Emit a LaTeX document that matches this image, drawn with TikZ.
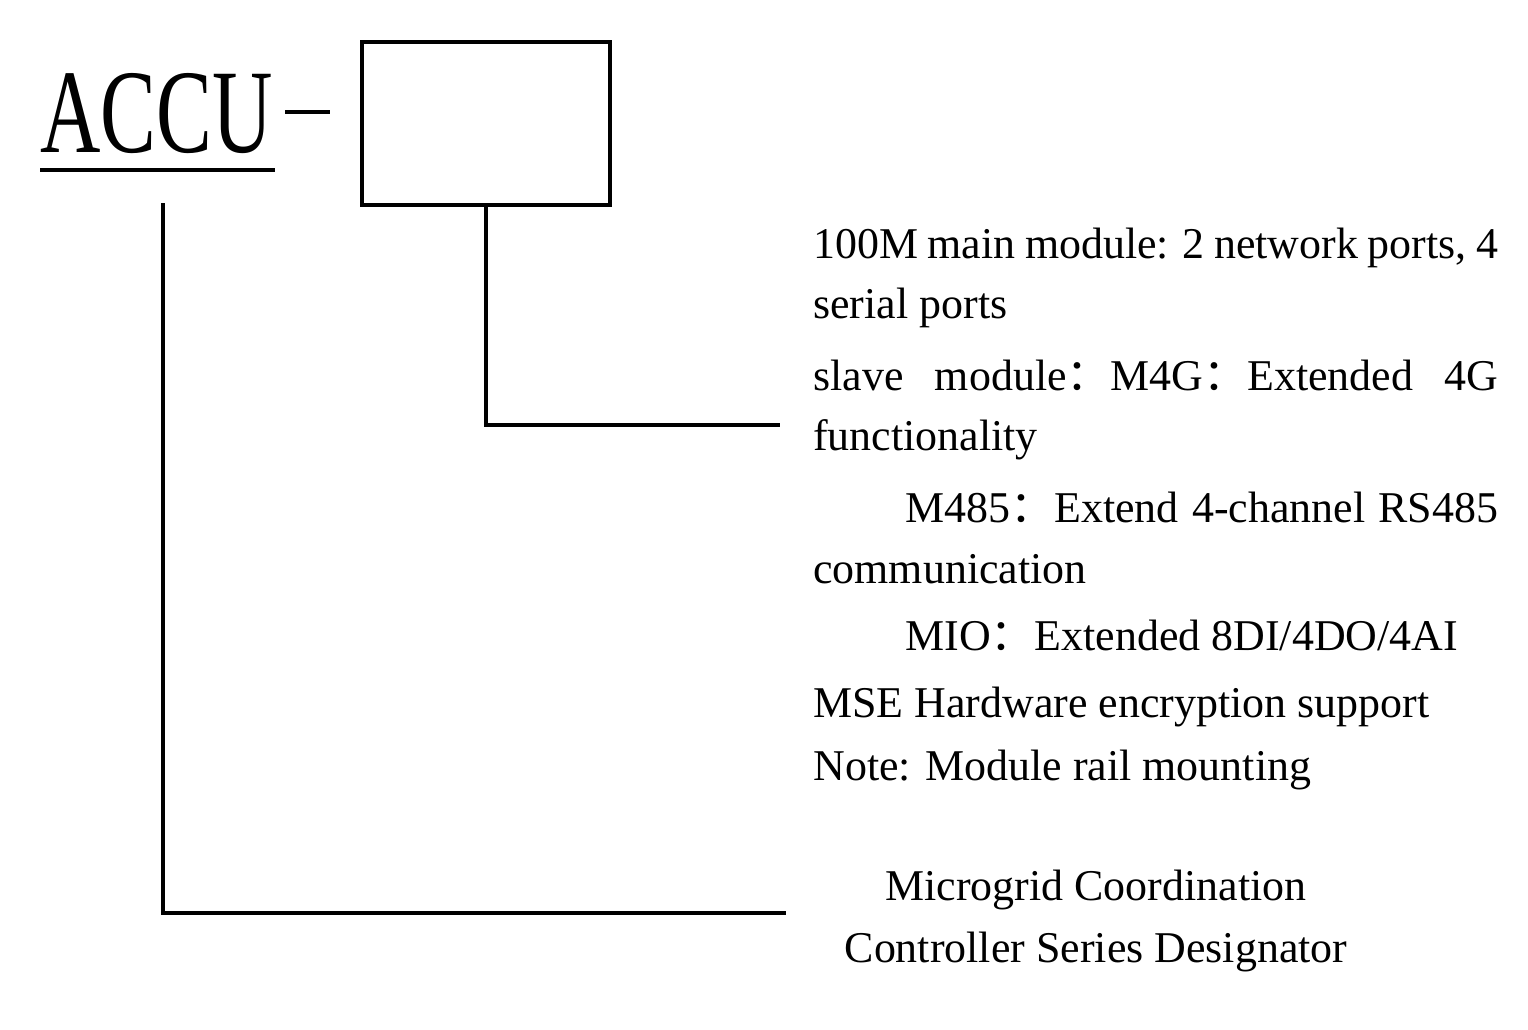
\documentclass[tikz,border=0pt]{standalone}
\usepackage{fontspec}
\setmainfont{Liberation Serif}
\newfontfamily\cjk{Noto Sans CJK SC}
\newcommand{\fcolon}{{\cjk ：}}
\begin{document}
\begin{tikzpicture}[x=0.02cm,y=-0.02cm,every node/.style={inner sep=0pt},
  txt/.style={anchor=base west,font=\fontsize{25}{30}\selectfont},
  wire/.style={line width=2.3pt}]
\useasboundingbox (0,0) rectangle (1528,1029);
\node[anchor=base west,font=\fontsize{68}{80}\selectfont,xscale=0.7] (accu) at (40,152) {ACCU};
\draw[line width=2.4pt] (40,170) -- (275,170);
\draw[wire] (285,112) -- (330,112);
\node[draw,line width=2.3pt,minimum width=248*0.02cm,minimum height=163*0.02cm,anchor=north west] (box) at (360,40) {};
\coordinate (b1) at (486,425);
\coordinate (e1) at (780,425);
\coordinate (a1) at (163,203);
\coordinate (b2) at (163,913);
\coordinate (e2) at (786,913);
\draw[wire] (box.south -| b1) -- (b1) -- (e1);
\draw[wire] (a1) -- (b2) -- (e2);
\node[txt] (l1) at (813,258) {\makebox[13.7cm][s]{100M main module: 2 network ports, 4}};
\node[txt] (l2) at (813,318) {serial ports};
\node[txt] (l3) at (813,390) {\makebox[13.7cm][s]{slave module\fcolon M4G\fcolon Extended 4G}};
\node[txt] (l4) at (813,450) {functionality};
\node[txt] (l5) at (905,522) {\makebox[11.86cm][s]{M485\fcolon Extend 4-channel RS485}};
\node[txt] (l6) at (813,583) {communication};
\node[txt] (l7) at (905,650) {MIO\fcolon Extended 8DI/4DO/4AI};
\node[txt] (l8) at (813,717) {MSE Hardware encryption support};
\node[txt] (l9) at (813,780) {Note: Module rail mounting};
\node[txt,anchor=base] (m1) at (1096,900) {Microgrid Coordination};
\node[txt,anchor=base] (m2) at (1096,962) {Controller Series Designator};
\end{tikzpicture}
\end{document}
